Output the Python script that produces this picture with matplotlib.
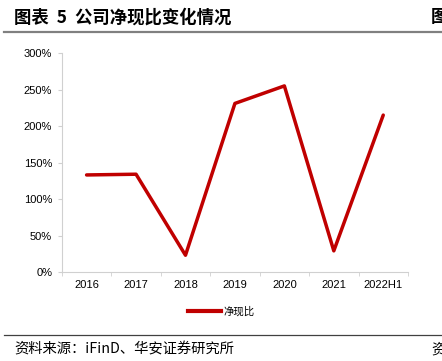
import matplotlib.pyplot as plt
from matplotlib.lines import Line2D
from matplotlib.ticker import FuncFormatter

plt.rcParams['font.family'] = ['Liberation Sans', 'Noto Sans CJK SC', 'DejaVu Sans']

# 数据
years = ['2016', '2017', '2018', '2019', '2020', '2021', '2022H1']
ratio = [133, 134, 23, 231, 255, 29, 215]   # 净现比, %

RED = '#C00000'
GRID = '#D0D0D0'

fig = plt.figure(figsize=(4.42, 3.61), dpi=100)
ax = fig.add_axes([0.140, 0.2465, 0.783, 0.6065])

x = list(range(len(years)))
ax.plot(x, ratio, color=RED, lw=2.5, solid_capstyle='round', label='净现比')

ax.set_xlim(-0.5, len(years) - 0.5)
ax.set_ylim(0, 300)
ax.set_yticks(range(0, 301, 50))
ax.yaxis.set_major_formatter(FuncFormatter(lambda v, p: f'{v:.0f}%'))
ax.set_xticks(x)
ax.set_xticklabels(years)
ax.set_xticks([i - 0.5 for i in range(len(years) + 1)], minor=True)

for s in ['top', 'right']:
    ax.spines[s].set_visible(False)
for s in ['left', 'bottom']:
    ax.spines[s].set_color(GRID)
    ax.spines[s].set_linewidth(0.8)

ax.tick_params(axis='y', length=3, color=GRID, labelsize=8, pad=4)
ax.tick_params(axis='x', which='major', length=0, labelsize=8, pad=6)
ax.tick_params(axis='x', which='minor', length=3, color=GRID)

# 图例
h = Line2D([0], [0], color=RED, lw=3)
fig.legend([h], ['净现比'], loc='center', bbox_to_anchor=(0.5, 0.136),
           frameon=False, handlelength=3.2, handletextpad=0.2,
           prop={'family': ['Noto Sans CJK SC'], 'size': 7.5})

# 标题与来源
fig.text(0.032, 0.952, '图表  5  公司净现比变化情况', fontsize=12.5, fontweight='bold',
         family=['Noto Sans CJK SC'], va='center')
fig.text(0.975, 0.952, '图', fontsize=12.5, fontweight='bold',
         family=['Noto Sans CJK SC'], va='center')
fig.add_artist(Line2D([0.01, 1.0], [0.911, 0.911], color='#808080', lw=1.6))
fig.add_artist(Line2D([0.01, 1.0], [0.072, 0.072], color='#404040', lw=0.9))
fig.text(0.032, 0.033, '资料来源：iFinD、华安证券研究所', fontsize=10.3,
         family=['Noto Sans CJK SC', 'DejaVu Sans'], va='center')
fig.text(0.975, 0.033, '资', fontsize=10.3, family=['Noto Sans CJK SC'], va='center')

fig.savefig('out.png', dpi=100)
